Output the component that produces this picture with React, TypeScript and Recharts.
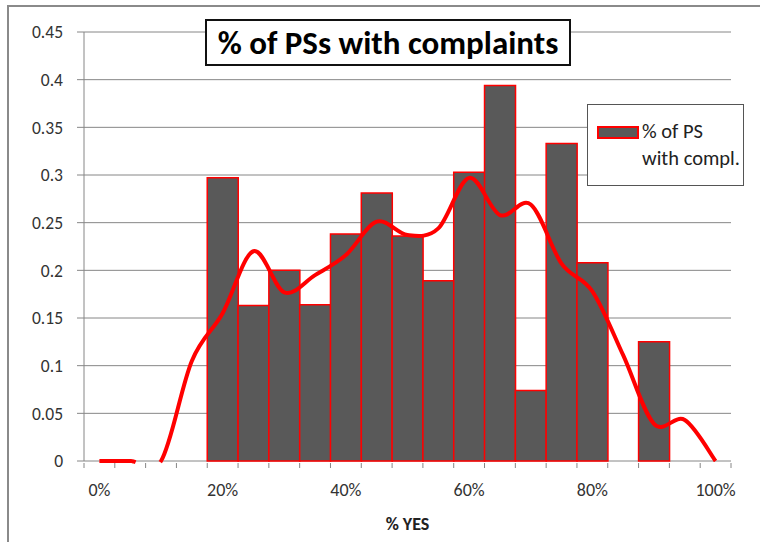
import React from 'react';
import { ComposedChart, Bar, Line, XAxis, YAxis, CartesianGrid } from 'recharts';

const categories = ['0%','5%','10%','15%','20%','25%','30%','35%','40%','45%','50%','55%','60%','65%','70%','75%','80%','85%','90%','95%','100%'];
const barValues: (number | null)[] = [null,null,null,null,0.297,0.163,0.2,0.164,0.238,0.281,0.236,0.189,0.303,0.394,0.074,0.333,0.208,null,0.125,null,null];
const lineValues: number[] = [0,0,0,0.105,0.155,0.22,0.177,0.195,0.216,0.251,0.237,0.244,0.297,0.258,0.269,0.207,0.178,0.111,0.039,0.043,0];
const yTicks = [0,0.05,0.1,0.15,0.2,0.25,0.3,0.35,0.4,0.45];
const labeledTicks = ['0%','20%','40%','60%','80%','100%'];

const data = categories.map((c, i) => ({ cat: c, bar: barValues[i], line: lineValues[i] }));

const FONT = 'Carlito, Lato, "Open Sans", sans-serif';
const AXIS = '#868686';
const W = 760, H = 542;
const M = { top: 32, right: 29, bottom: 0, left: 0 };
const YW = 84;
const XH = 81;
const BAND = (W - M.right - YW) / categories.length;

// Excel-like smoothing (Catmull-Rom through each point); parts dipping below the axis are hidden
const smoothCurve: any = (context: any) => {
  let pts: [number, number][] = [];
  return {
    areaStart() {},
    areaEnd() {},
    lineStart() { pts = []; },
    lineEnd() {
      const n = pts.length;
      if (!n) return;
      const base = Math.max(...pts.map((p) => p[1])) + 1.5;
      let penDown = true;
      context.moveTo(pts[0][0], pts[0][1]);
      for (let i = 0; i < n - 1; i++) {
        const p0 = pts[i - 1] || pts[i];
        const p1 = pts[i];
        const p2 = pts[i + 1];
        const p3 = pts[i + 2] || p2;
        const c1x = p1[0] + (p2[0] - p0[0]) / 6, c1y = p1[1] + (p2[1] - p0[1]) / 6;
        const c2x = p2[0] - (p3[0] - p1[0]) / 6, c2y = p2[1] - (p3[1] - p1[1]) / 6;
        if (penDown && c1y <= base && c2y <= base) {
          context.bezierCurveTo(c1x, c1y, c2x, c2y, p2[0], p2[1]);
          continue;
        }
        const steps = 40;
        for (let s = 1; s <= steps; s++) {
          const t = s / steps, u = 1 - t;
          const x = u * u * u * p1[0] + 3 * u * u * t * c1x + 3 * u * t * t * c2x + t * t * t * p2[0];
          const y = u * u * u * p1[1] + 3 * u * u * t * c1y + 3 * u * t * t * c2y + t * t * t * p2[1];
          if (y <= base) {
            if (penDown) context.lineTo(x, y);
            else { context.moveTo(x, y); penDown = true; }
          } else {
            penDown = false;
          }
        }
      }
    },
    point(x: number, y: number) { pts.push([+x, +y]); },
  };
};

const XTick = (props: any) => {
  const { x, y, payload, index } = props;
  const left = x - BAND / 2;
  const show = labeledTicks.includes(payload.value);
  return (
    <g>
      <line x1={left} x2={left} y1={y + 2} y2={y + 7} stroke={AXIS} strokeWidth={1} />
      {index === categories.length - 1 && (
        <line x1={x + BAND / 2} x2={x + BAND / 2} y1={y + 2} y2={y + 7} stroke={AXIS} strokeWidth={1} />
      )}
      {show && (
        <text x={x} y={y + 31} textAnchor="middle" dominantBaseline="middle" fontSize={18} fill="#333" fontFamily={FONT}>
          {payload.value}
        </text>
      )}
    </g>
  );
};

const LegendBox = () => (
  <div style={{ position: 'absolute', left: 587, top: 104, boxSizing: 'border-box', width: 157, height: 82, border: '1.5px solid #555', background: '#fff', fontFamily: FONT, fontSize: 20.5, color: '#222' }}>
    <div style={{ position: 'absolute', left: 9, top: 21, width: 42, height: 13, boxSizing: 'border-box', background: '#595959', border: '2px solid #ff0000' }} />
    <div style={{ position: 'absolute', left: 54, top: 13, lineHeight: '27px', whiteSpace: 'nowrap' }}>
      % of PS<br />with compl.
    </div>
  </div>
);

export default function App() {
  return (
    <div style={{ position: 'absolute', left: 0, top: 0, width: W, height: H, overflow: 'hidden', background: '#fff' }}>
      <div style={{ position: 'absolute', left: 7, top: 5, width: 900, height: 700, border: '2px solid #8a8a8a' }} />
      <div style={{ position: 'absolute', left: 0, top: 0 }}>
        <ComposedChart width={W} height={H} data={data} margin={M} barCategoryGap={0} barGap={0}>
          <CartesianGrid vertical={false} stroke={AXIS} strokeWidth={1} />
          <XAxis
            dataKey="cat"
            interval={0}
            height={XH}
            tickLine={false}
            tickSize={0}
            tickMargin={0}
            tick={<XTick />}
            axisLine={false}
            label={{ value: '% YES', position: 'insideBottom', offset: 12, fontSize: 18, fontWeight: 'bold', fill: '#222', fontFamily: FONT }}
          />
          <YAxis
            width={YW}
            domain={[0, 0.45]}
            ticks={yTicks}
            tickSize={7}
            tickMargin={14}
            tickLine={{ stroke: AXIS }}
            axisLine={{ stroke: AXIS }}
            tick={{ fontSize: 17.5, fill: '#333', fontFamily: FONT }}
          />
          <Bar dataKey="bar" name="% of PS with compl." fill="#595959" stroke="#ff0000" strokeWidth={1.5} isAnimationActive={false} />
          <Line dataKey="line" type={smoothCurve} stroke="#ff0000" strokeWidth={4} dot={false} activeDot={false} isAnimationActive={false} legendType="none" />
        </ComposedChart>
      </div>
      <LegendBox />
      <div style={{ position: 'absolute', left: 205, top: 19, width: 366, height: 47, boxSizing: 'border-box', border: '2px solid #111', background: '#fff', display: 'flex', alignItems: 'center', justifyContent: 'center', fontFamily: FONT, fontWeight: 'bold', fontSize: 33, color: '#000', whiteSpace: 'nowrap' }}>
        % of PSs with complaints
      </div>
    </div>
  );
}
